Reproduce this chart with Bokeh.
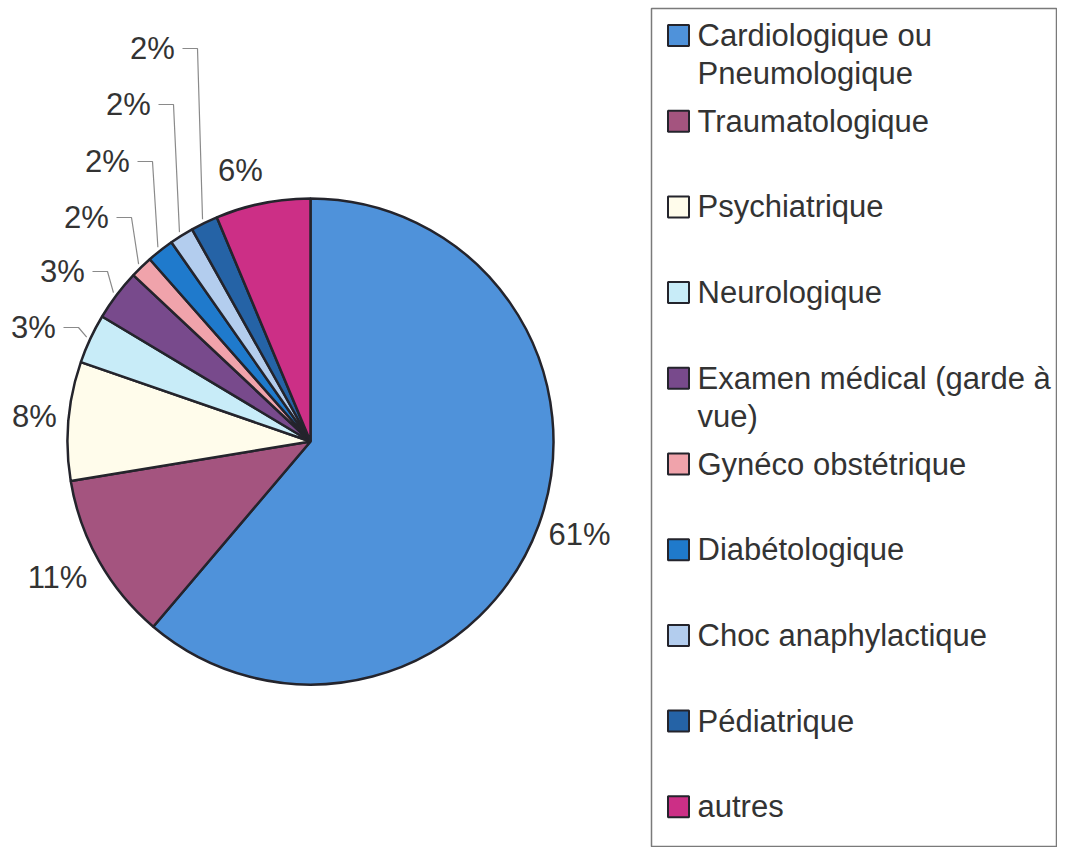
import numpy as np
from bokeh.plotting import figure
from bokeh.models import Range1d, ColumnDataSource
from bokeh.core.properties import value
from bokeh.embed import file_html
from bokeh.resources import INLINE

# ---- data ----
categories = ["Cardiologique ou\nPneumologique", "Traumatologique", "Psychiatrique",
              "Neurologique", "Examen médical (garde à\nvue)", "Gynéco obstétrique",
              "Diabétologique", "Choc anaphylactique", "Pédiatrique", "autres"]
values = [61.2, 11.2, 7.9, 3.3, 3.4, 1.5, 1.8, 1.6, 1.8, 6.3]
pct_labels = ["61%", "11%", "8%", "3%", "3%", "2%", "2%", "2%", "2%", "6%"]

# ---- style / layout ----
colors = ["#4F92DA", "#A4547F", "#FFFCEB", "#C8ECF8", "#784A8C",
          "#F0A3AB", "#1F7ACC", "#B3CDEE", "#2563A6", "#CC2F86"]
label_pos = [(579, 534), (57, 577), (34, 416), (33, 327), (62, 271),
             (86, 217), (107, 161), (128, 104), (152, 48), (240, 170)]
has_leader = [False, False, False, True, True, True, True, True, True, False]

W, H = 1057, 847
def Y(py):
    return H - py

FONT = "Liberation Sans"
TXT = "#333333"

p = figure(width=W, height=H, output_backend="svg", toolbar_location=None,
           x_range=Range1d(0, W), y_range=Range1d(0, H),
           min_border=0, outline_line_color=None,
           background_fill_color="white", border_fill_color="white")
p.axis.visible = False
p.xgrid.visible = False
p.ygrid.visible = False

cx, cy, R = 310, Y(441), 243
vals = np.array(values, dtype=float)
frac = vals / vals.sum()
cum_end = np.cumsum(frac)
cum_start = cum_end - frac
start_angle = np.pi / 2 - 2 * np.pi * cum_end
end_angle = np.pi / 2 - 2 * np.pi * cum_start

src = ColumnDataSource(dict(start=start_angle, end=end_angle, color=colors))
p.wedge(x=cx, y=cy, radius=R, start_angle="start", end_angle="end",
        direction="anticlock", fill_color="color", line_color="#24242C",
        line_width=2.5, source=src)

# percentage labels and leader lines
mid = 2 * np.pi * (cum_start + cum_end) / 2
for i, (lx, ly) in enumerate(label_pos):
    p.text(x=[lx], y=[Y(ly)], text=[pct_labels[i]], text_align="center",
           text_baseline="middle", text_font=value(FONT), text_font_size="31px",
           text_color=TXT)
    if has_leader[i]:
        ax = cx + (R + 4) * np.sin(mid[i])
        ay = cy + (R + 4) * np.cos(mid[i])
        p.line(x=[lx + 30, lx + 45, ax], y=[Y(ly), Y(ly), ay],
               line_color="#8A8A8A", line_width=1.2)

# legend
p.quad(left=[651], right=[1056], top=[Y(8)], bottom=[Y(846)],
       fill_color=None, line_color="#7A7A7A", line_width=1.5)
row0, step, lh = 35, 85.7, 38
for i, cat in enumerate(categories):
    ry = row0 + i * step
    p.rect(x=[678], y=[Y(ry)], width=21, height=21, fill_color=colors[i],
           line_color="#24242C", line_width=2)
    for j, line in enumerate(cat.split("\n")):
        p.text(x=[697], y=[Y(ry + j * lh)], text=[line], text_align="left",
               text_baseline="middle", text_font=value(FONT),
               text_font_size="31px", text_color=TXT)

open("out.html", "w").write(file_html(p, INLINE))
